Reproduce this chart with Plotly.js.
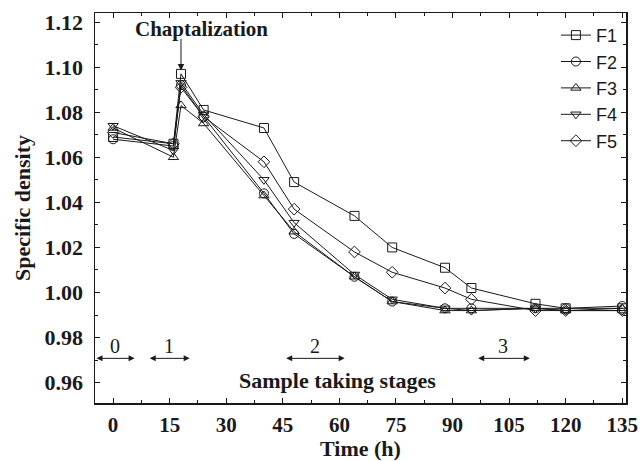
<!DOCTYPE html>
<html>
<head>
<meta charset="utf-8">
<script src="https://cdn.plot.ly/plotly-3.0.1.min.js"></script>
<style>html,body{margin:0;padding:0;background:#fff;}#chart{width:644px;height:461px;}</style>
</head>
<body>
<div id="chart"></div>
<script>
// Sampling times (h)
const timeH = [0, 16, 18, 24, 40, 48, 64, 74, 88, 95, 112, 120, 135];
// Specific density per fermentation
const F1 = [1.069, 1.066, 1.097, 1.081, 1.073, 1.049, 1.034, 1.020, 1.011, 1.002, 0.995, 0.993, 0.993];
const F2 = [1.068, 1.065, 1.092, 1.078, 1.044, 1.026, 1.007, 0.996, 0.993, 0.993, 0.993, 0.993, 0.994];
const F3 = [1.073, 1.060, 1.083, 1.075, 1.043, 1.027, 1.007, 0.996, 0.992, 0.992, 0.993, 0.992, 0.993];
const F4 = [1.074, 1.063, 1.093, 1.079, 1.050, 1.031, 1.008, 0.997, 0.993, 0.992, 0.993, 0.992, 0.992];
const F5 = [1.071, 1.066, 1.091, 1.078, 1.058, 1.037, 1.018, 1.009, 1.002, 0.997, 0.992, 0.992, 0.992];
const seriesNames = ["F1", "F2", "F3", "F4", "F5"];
const seriesSymbols = ["square-open", "circle-open", "triangle-up-open", "triangle-down-open", "diamond-open"];
const xTicks = [0, 15, 30, 45, 60, 75, 90, 105, 120, 135];
// Sample taking stages: label, start, end (h)
const stageLabels = ["0", "1", "2", "3"];
const stageStart = [-4.8, 9.3, 45.5, 96.4];
const stageEnd = [5.7, 20.3, 61.4, 110.5];
const stageLevel = 0.9708;
const chaptTime = 18;
const chaptLevel = 1.0985;

const allSeries = [F1, F2, F3, F4, F5];
const serif = "Liberation Serif, Times New Roman, serif";
const ink = "#1a1a1a";
const data = allSeries.map((ys, i) => ({
  x: timeH, y: ys, name: seriesNames[i], type: "scatter", mode: "lines+markers",
  line: {color: ink, width: 1},
  marker: {symbol: seriesSymbols[i], size: 9, color: ink, line: {width: 1, color: ink}},
  cliponaxis: false
}));

const annotations = [];
stageLabels.forEach((lab, i) => {
  annotations.push({x: stageEnd[i], y: stageLevel, ax: stageStart[i], ay: stageLevel, axref: "x", ayref: "y",
    xref: "x", yref: "y", text: "", showarrow: true, arrowhead: 2, arrowside: "end+start", arrowsize: 1.2, arrowwidth: 1, arrowcolor: ink});
  annotations.push({x: (stageStart[i] + stageEnd[i]) / 2, y: stageLevel, xref: "x", yref: "y", text: lab, showarrow: false,
    yanchor: "bottom", yshift: -1, font: {family: serif, size: 20, color: ink}});
});
annotations.push({x: 59.6, y: 0.9611, xref: "x", yref: "y", text: "Sample taking stages", showarrow: false,
  font: {family: serif, size: 22, color: ink, weight: "bold"}});
annotations.push({x: 23.5, y: 1.1171, xref: "x", yref: "y", text: "Chaptalization", showarrow: false,
  font: {family: serif, size: 21, color: ink, weight: "bold"}});
annotations.push({x: chaptTime, y: chaptLevel, xref: "x", yref: "y", ax: 0, ay: -33, text: "", showarrow: true,
  arrowhead: 2, arrowsize: 1.3, arrowwidth: 1, arrowcolor: ink, standoff: 0});

const layout = {
  width: 644, height: 461,
  margin: {l: 95, r: 18, t: 13, b: 58},
  paper_bgcolor: "#fff", plot_bgcolor: "#fff",
  showlegend: true,
  legend: {x: 0.868, y: 0.99, xanchor: "left", yanchor: "top", bgcolor: "rgba(0,0,0,0)",
    font: {family: "Liberation Sans, Arial, sans-serif", size: 18, color: ink}, tracegroupgap: 0, itemwidth: 30},
  xaxis: {range: [-4.8, 136], tickvals: xTicks, ticks: "inside", ticklen: 5, tickwidth: 1, tickcolor: ink,
    showline: true, linewidth: 1.5, linecolor: ink, mirror: "allticks", showgrid: false, zeroline: false,
    minor: {dtick: 7.5, tick0: 0, ticks: "inside", ticklen: 3, tickcolor: ink, showgrid: false},
    tickfont: {family: serif, size: 21, color: ink, weight: "bold"}, ticklabelstandoff: 2,
    title: {text: "Time (h)", font: {family: serif, size: 22, color: ink, weight: "bold"}, standoff: 4}},
  yaxis: {range: [0.951, 1.124], dtick: 0.02, tick0: 0.96, tickformat: ".2f", ticks: "inside", ticklen: 5, tickwidth: 1, tickcolor: ink,
    showline: true, linewidth: 1.5, linecolor: ink, mirror: "allticks", showgrid: false, zeroline: false,
    minor: {dtick: 0.01, tick0: 0.96, ticks: "inside", ticklen: 3, tickcolor: ink, showgrid: false},
    tickfont: {family: serif, size: 22, color: ink, weight: "bold"}, ticklabelstandoff: 6,
    title: {text: "Specific density", font: {family: serif, size: 22, color: ink, weight: "bold"}, standoff: 8}},
  annotations: annotations
};
Plotly.newPlot("chart", data, layout, {staticPlot: true, displayModeBar: false});
</script>
</body>
</html>
